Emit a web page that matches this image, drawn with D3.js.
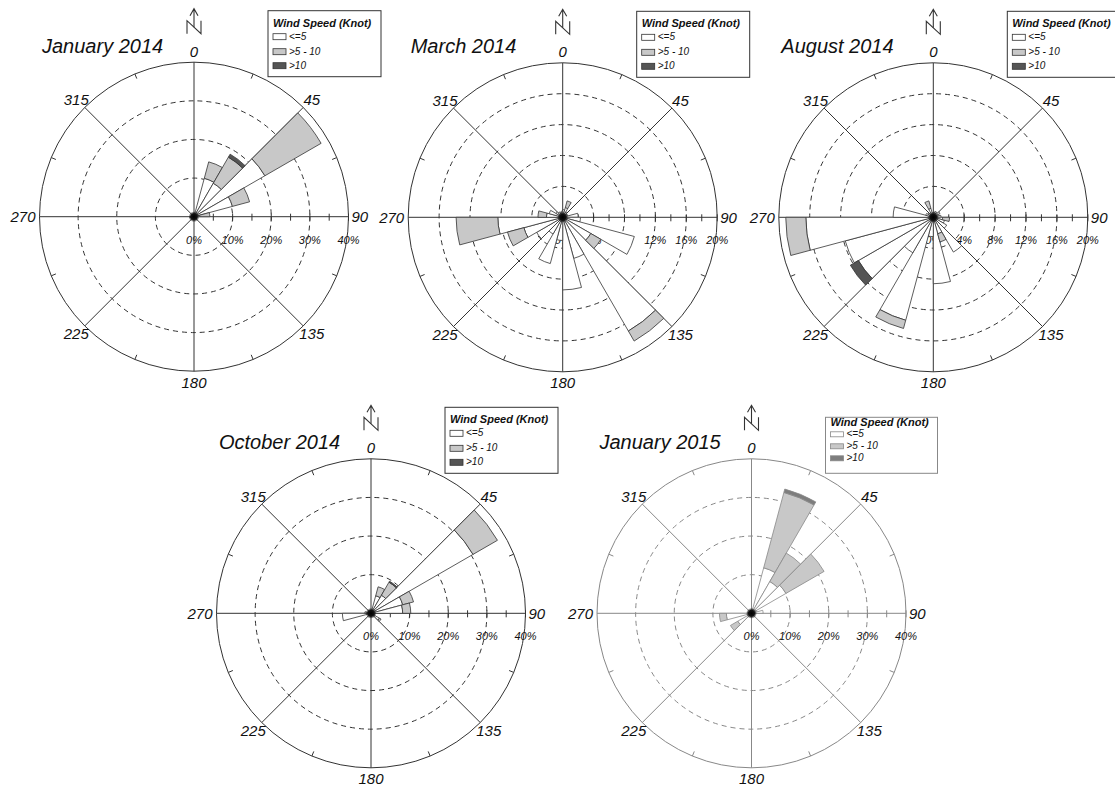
<!DOCTYPE html>
<html>
<head>
<meta charset="utf-8">
<script src="https://cdn.jsdelivr.net/npm/d3@7/dist/d3.min.js"></script>
<style>
  body { margin: 0; background: #fff; }
  text { font-family: "Liberation Sans", Arial, sans-serif; font-style: italic; }
</style>
</head>
<body>
<svg id="chart" width="1115" height="789"></svg>
<script>
// sector start angles (15 degree bins)
var directions = [0, 15, 30, 45, 60, 75, 90, 105, 120, 135, 150, 165,
                  180, 195, 210, 225, 240, 255, 270, 285, 300, 315, 330, 345];
var speedClasses = ['<=5', '>5 - 10', '>10'];
var compassLabels = [0, 45, 90, 135, 180, 225, 270, 315];
var ticks40 = [0, 10, 20, 30, 40];
var ticks20 = [0, 4, 8, 12, 16, 20];

// frequency (%) per sector, one array per speed class
var jan2014Low  = [0.4, 10.3, 10.0, 21.2, 10.3, 1.5, 0.3, 0.2, 0.2, 0.2, 0.1, 0.1, 0.2, 0.2, 0.2, 0.3, 0.4, 0.8, 0.6, 0.3, 0.2, 0.2, 0.2, 0.3];
var jan2014Mid  = [0.2, 4.4, 7.8, 16.8, 4.6, 2.6, 0.2, 0, 0, 0, 0, 0, 0, 0, 0, 0, 0.1, 0.3, 0.2, 0, 0, 0, 0, 0.1];
var jan2014High = [0, 0, 0.9, 0, 0, 0, 0, 0, 0, 0, 0, 0, 0, 0, 0, 0, 0, 0, 0, 0, 0, 0, 0, 0];

var mar2014Low  = [1.0, 1.3, 0.8, 0.6, 0.7, 2.0, 2.3, 9.6, 4.2, 17.0, 5.5, 9.4, 3.0, 6.2, 2.5, 3.9, 5.2, 8.4, 2.1, 1.8, 1.0, 0.8, 0.7, 0.8];
var mar2014Mid  = [0, 0.9, 0, 0, 0, 0, 0, 0, 1.5, 1.5, 0, 0, 0, 0, 0, 0, 2.2, 5.4, 1.1, 0, 0, 0, 0, 0];
var mar2014High = [0, 0, 0, 0, 0, 0, 0, 0, 0, 0, 0, 0, 0, 0, 0, 0, 0, 0, 0, 0, 0, 0, 0, 0];

var aug2014Low  = [0.6, 0.8, 0.7, 1.0, 0.8, 1.0, 1.2, 1.5, 2.0, 5.2, 2.2, 8.6, 2.5, 13.8, 5.3, 11.2, 11.8, 16.5, 5.2, 1.0, 0.8, 0.7, 1.2, 0.6];
var aug2014Mid  = [0, 0, 0, 0, 0, 0, 0.9, 0, 0, 0, 1.1, 0, 0, 1.1, 0, 0, 0, 2.6, 0, 0, 0, 0, 1.0, 0];
var aug2014High = [0, 0, 0, 0, 0, 0, 0, 0, 0, 0, 0, 0, 0, 0, 0, 1.2, 0, 0, 0, 0, 0, 0, 0, 0];

var oct2014Low  = [0.5, 4.7, 5.4, 30.5, 8.5, 8.2, 0.6, 1.0, 2.5, 0.5, 0.4, 0.3, 0.4, 0.3, 0.4, 0.5, 0.6, 7.4, 1.0, 0.5, 0.3, 0.3, 0.3, 0.3];
var oct2014Mid  = [0, 2.4, 3.9, 7.3, 2.9, 2.1, 0, 0, 0.5, 0, 0, 0, 0, 0, 0, 0, 0, 0, 0.6, 0, 0, 0, 0, 0];
var oct2014High = [0, 0, 0.3, 0, 0, 0, 0, 0, 0, 0, 0, 0, 0, 0, 0, 0, 0, 0, 0, 0, 0, 0, 0, 0];

var jan2015Low  = [0.5, 12.2, 9.5, 10.3, 1.5, 3.0, 0.5, 0.4, 0.3, 0.3, 0.3, 0.5, 0.6, 0.8, 0.8, 4.1, 1.2, 6.5, 1.0, 0.6, 0.4, 0.4, 0.3, 0.3];
var jan2015Mid  = [0, 20.2, 8.5, 11.4, 0, 0, 0, 0, 0, 0, 0, 0, 0, 0, 0, 2.2, 0, 1.8, 0, 0, 0, 0, 0, 0];
var jan2015High = [0, 0.9, 0, 0, 0, 0, 0, 0, 0, 0, 0, 0, 0, 0, 0, 0, 0, 0, 0, 0, 0, 0, 0, 0];

var roses = [
  { title: 'January 2014', low: jan2014Low, mid: jan2014Mid, high: jan2014High, ticks: ticks40 },
  { title: 'March 2014',   low: mar2014Low, mid: mar2014Mid, high: mar2014High, ticks: ticks20 },
  { title: 'August 2014',  low: aug2014Low, mid: aug2014Mid, high: aug2014High, ticks: ticks20 },
  { title: 'October 2014', low: oct2014Low, mid: oct2014Mid, high: oct2014High, ticks: ticks40 },
  { title: 'January 2015', low: jan2015Low, mid: jan2015Mid, high: jan2015High, ticks: ticks40 }
];

// placement of each panel
var R = 154.5;
var legendBig = { dx: 74, dy: -206, w: 113, h: 66, titleY: 16, rows: [23, 38, 52], sw: 6 };
var legendSmall = { dx: 74, dy: -196, w: 112, h: 56, titleY: 9, rows: [14.5, 26.5, 38.5], sw: 5 };
var layout = [
  { cx: 194,   cy: 216.7, line: '#333', dark: '#555', legend: legendBig },
  { cx: 562.7, cy: 217.3, line: '#333', dark: '#555', legend: legendBig },
  { cx: 933.3, cy: 217.3, line: '#333', dark: '#555', legend: legendBig },
  { cx: 371,   cy: 613.3, line: '#333', dark: '#555', legend: legendBig },
  { cx: 751.5, cy: 613.3, line: '#888', dark: '#7d7d7d', legend: legendSmall }
];

var svg = d3.select('#chart');
var toRad = d3.scaleLinear().domain([0, 360]).range([0, 2 * Math.PI]);

var blob = svg.append('defs').append('radialGradient').attr('id', 'blob');
blob.append('stop').attr('offset', '0%').attr('stop-color', '#000');
blob.append('stop').attr('offset', '55%').attr('stop-color', '#111');
blob.append('stop').attr('offset', '100%').attr('stop-color', '#111').attr('stop-opacity', 0);

function polar(rad, deg) {
  var a = toRad(deg);
  return [rad * Math.sin(a), -rad * Math.cos(a)];
}

function drawRose(rose, lay) {
  var ticks = rose.ticks;
  var max = ticks[ticks.length - 1];
  var step = ticks[1] - ticks[0];
  var r = d3.scaleLinear().domain([0, max]).range([0, R]);
  var fills = ['#ffffff', '#c8c8c8', lay.dark];

  var g = svg.append('g').attr('transform', 'translate(' + lay.cx + ',' + lay.cy + ')');

  // title
  g.append('text')
    .attr('x', -152).attr('y', -164)
    .style('font-size', '20px').attr('fill', '#111')
    .text(rose.title);

  // north arrow
  var n = g.append('g').attr('fill', 'none').attr('stroke', '#333').attr('stroke-width', 1.1);
  n.append('path').attr('d', 'M-7,-183 L-7,-196 L7,-183 L7,-196');
  n.append('path').attr('d', 'M0,-189.5 L0,-208 M-4,-201 L0,-208 L4,-201');

  // grid
  g.append('circle').attr('r', R).attr('fill', 'none')
    .attr('stroke', lay.line).attr('stroke-width', 1);

  g.selectAll('circle.ring')
    .data(ticks.slice(1, -1))
    .enter().append('circle')
      .attr('class', 'ring')
      .attr('r', function (d) { return r(d); })
      .attr('fill', 'none')
      .attr('stroke', lay.line)
      .attr('stroke-dasharray', '5,4');

  g.selectAll('line.spoke')
    .data(compassLabels)
    .enter().append('line')
      .attr('class', 'spoke')
      .attr('x2', function (d) { return polar(R, d)[0]; })
      .attr('y2', function (d) { return polar(R, d)[1]; })
      .attr('stroke', lay.line);

  g.selectAll('line.rimtick')
    .data(compassLabels)
    .enter().append('line')
      .attr('class', 'rimtick')
      .attr('x1', function (d) { return polar(R - 5, d + 22.5)[0]; })
      .attr('y1', function (d) { return polar(R - 5, d + 22.5)[1]; })
      .attr('x2', function (d) { return polar(R, d + 22.5)[0]; })
      .attr('y2', function (d) { return polar(R, d + 22.5)[1]; })
      .attr('stroke', lay.line);

  g.selectAll('line.axtick')
    .data(d3.range(step / 2, max + 0.001, step / 2))
    .enter().append('line')
      .attr('class', 'axtick')
      .attr('x1', function (d) { return r(d); })
      .attr('x2', function (d) { return r(d); })
      .attr('y1', -3).attr('y2', 4)
      .attr('stroke', lay.line);

  // compass labels
  g.selectAll('text.dir')
    .data(compassLabels)
    .enter().append('text')
      .attr('class', 'dir')
      .attr('x', function (d) {
        if (d === 90) return R + 3;
        if (d === 270) return -R - 4;
        return polar(R + 12, d)[0];
      })
      .attr('y', function (d) {
        if (d === 90 || d === 270) return 0;
        return polar(R + 11, d)[1];
      })
      .attr('dy', '0.36em')
      .attr('text-anchor', function (d) {
        return d === 90 ? 'start' : (d === 270 ? 'end' : 'middle');
      })
      .style('font-size', '15px').attr('fill', '#111')
      .text(function (d) { return d; });

  // percent labels (bars are drawn over them)
  g.selectAll('text.pct')
    .data(ticks)
    .enter().append('text')
      .attr('class', 'pct')
      .attr('x', function (d) { return r(d); })
      .attr('y', 27)
      .attr('text-anchor', 'middle')
      .style('font-size', '11px').attr('fill', '#111')
      .text(function (d) { return d + '%'; });

  // stacked sectors
  var rows = directions.map(function (dir, i) {
    return { dir: dir, low: rose.low[i], mid: rose.mid[i], high: rose.high[i] };
  });
  var series = d3.stack().keys(['low', 'mid', 'high'])(rows);

  var arc = d3.arc()
    .innerRadius(function (d) { return r(d[0]); })
    .outerRadius(function (d) { return r(d[1]); })
    .startAngle(function (d) { return toRad(d.data.dir); })
    .endAngle(function (d) { return toRad(d.data.dir + 15); });

  g.selectAll('g.layer')
    .data(series)
    .enter().append('g')
      .attr('class', 'layer')
      .attr('fill', function (d, i) { return fills[i]; })
    .selectAll('path')
    .data(function (d) { return d.filter(function (s) { return s[1] - s[0] > 0; }); })
    .enter().append('path')
      .attr('d', arc)
      .attr('stroke', lay.line)
      .attr('stroke-width', 0.8);

  g.append('circle').attr('r', 5.5).attr('fill', 'url(#blob)');

  // legend
  var L = lay.legend;
  var lg = g.append('g').attr('transform', 'translate(' + L.dx + ',' + L.dy + ')');
  lg.append('rect')
    .attr('width', L.w).attr('height', L.h)
    .attr('fill', '#fff').attr('stroke', lay.line);
  lg.append('text')
    .attr('x', 5).attr('y', L.titleY)
    .style('font-size', '11px').style('font-weight', 'bold').attr('fill', '#111')
    .text('Wind Speed (Knot)');
  var item = lg.selectAll('g.item')
    .data(speedClasses)
    .enter().append('g')
      .attr('class', 'item')
      .attr('transform', function (d, i) { return 'translate(5,' + L.rows[i] + ')'; });
  item.append('rect')
    .attr('width', 13).attr('height', L.sw)
    .attr('fill', function (d, i) { return fills[i]; })
    .attr('stroke', lay.line).attr('stroke-width', 0.8);
  item.append('text')
    .attr('x', 16).attr('y', L.sw)
    .style('font-size', '10px').attr('fill', '#111')
    .text(function (d) { return d; });
}

roses.forEach(function (rose, i) { drawRose(rose, layout[i]); });
</script>
</body>
</html>
